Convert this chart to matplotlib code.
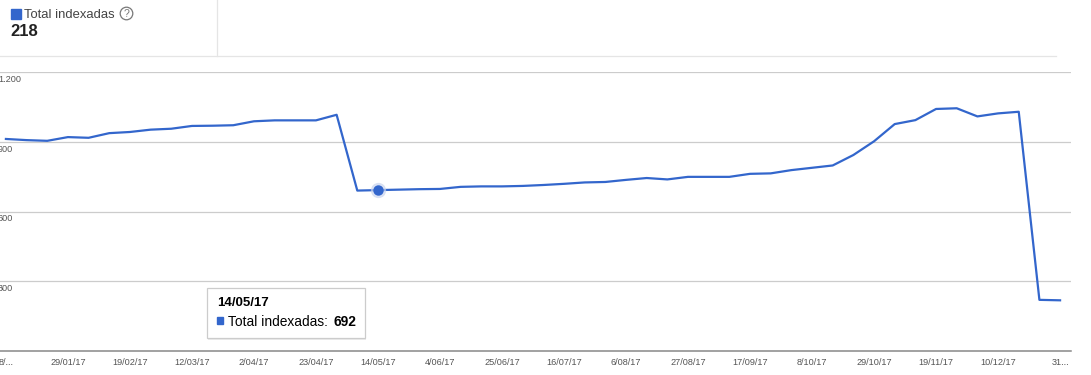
import pandas as pd
import matplotlib.pyplot as plt
from matplotlib.patches import Rectangle, Circle
from matplotlib.transforms import blended_transform_factory

plt.rcParams["font.family"] = ["Liberation Sans", "DejaVu Sans"]

# Weekly series, 8/01/17 .. 31/12/17
week_start = "2017-01-08"
values = [912, 907, 904, 920, 917, 937, 942, 952, 956, 968,
          969, 971, 988, 992, 992, 992, 1016, 690, 692, 694,
          696, 697, 706, 708, 708, 710, 714, 719, 725, 727,
          736, 744, 738, 749, 749, 749, 762, 764, 778, 788,
          798, 843, 902, 976, 993, 1041, 1044, 1009, 1022, 1029,
          220, 218]
tick_labels = ["8/...", "29/01/17", "19/02/17", "12/03/17", "2/04/17", "23/04/17",
               "14/05/17", "4/06/17", "25/06/17", "16/07/17", "6/08/17", "27/08/17",
               "17/09/17", "8/10/17", "29/10/17", "19/11/17", "10/12/17", "31..."]
y_ticks = [300, 600, 900, 1200]
y_labels = ["300", "600", "900", "1.200"]
series_name = "Total indexadas"
highlight = 18  # 14/05/17

dates = pd.date_range(week_start, periods=len(values), freq="7D")

blue = "#3366cc"
fig = plt.figure(figsize=(10.91, 3.75), dpi=100)
ax = fig.add_axes([0, 24 / 375, 1071 / 1091, 279 / 375])

ax.plot(dates, values, color=blue, linewidth=1.6, solid_joinstyle="round", zorder=3)
# highlighted point with halo
ax.plot(dates[highlight], values[highlight], "o", color="#c8d4ee", markersize=11,
        markeredgewidth=0, alpha=0.7, zorder=4)
ax.plot(dates[highlight], values[highlight], "o", color=blue, markersize=7.5,
        markeredgewidth=0, zorder=5)

ax.set_xlim(dates[0] - pd.Timedelta(days=2.0), dates[0] + pd.Timedelta(days=360.7))
ax.set_ylim(0, 1200)

ax.set_xticks(dates[::3])
ax.set_xticklabels(tick_labels, fontsize=6.6, color="#555555")
ax.tick_params(axis="x", length=0, pad=5)
ax.set_yticks(y_ticks)
ax.set_yticklabels([])
ax.tick_params(axis="y", length=0)
ax.grid(axis="y", color="#cccccc", linewidth=0.9)
ax.set_axisbelow(True)
for s in ["top", "left", "right"]:
    ax.spines[s].set_visible(False)
ax.spines["bottom"].set_color("#888888")
ax.spines["bottom"].set_linewidth(1.1)

ytrans = blended_transform_factory(ax.transAxes, ax.transData)
for v, lab in zip(y_ticks, y_labels):
    ax.text(-0.002, v - 12, lab, transform=ytrans, ha="left", va="top",
            fontsize=6.6, color="#555555")

# overlay in pixel coordinates for header and tooltip
ov = fig.add_axes([0, 0, 1, 1], zorder=10)
ov.set_xlim(0, 1091)
ov.set_ylim(375, 0)
ov.axis("off")

# header
ov.add_patch(Rectangle((11, 9), 10, 10, color=blue))
ov.text(24, 14.5, series_name, fontsize=9.4, color="#444444", va="center", ha="left")
ov.add_patch(Circle((126.5, 13.5), 6.3, fill=False, edgecolor="#777777", linewidth=0.9))
ov.text(126.5, 14, "?", fontsize=7.5, color="#777777", ha="center", va="center")
ov.text(10.5, 31, str(values[-1]), fontsize=12, fontweight="bold", color="#222222",
        va="center", ha="left")
ov.plot([216.5, 216.5], [0, 56], color="#e5e5e5", linewidth=0.9)
ov.plot([0, 1056], [56, 56], color="#e5e5e5", linewidth=0.9)

# tooltip
ov.add_patch(Rectangle((208, 289.5), 158, 50, facecolor="#000000", alpha=0.08,
                       edgecolor="none"))
ov.add_patch(Rectangle((207, 288), 158, 50, facecolor="white", edgecolor="#cccccc",
                       linewidth=0.9))
ov.text(217, 303, dates[highlight].strftime("%d/%m/%y"), fontsize=9.5,
        fontweight="bold", color="#000000", va="center", ha="left")
ov.add_patch(Rectangle((216.5, 317), 6.5, 6.5, color=blue))
ov.text(227.5, 322.5, series_name + ":", fontsize=9.9, color="#000000",
        va="center", ha="left")
ov.text(333, 322.5, str(values[highlight]), fontsize=9.9, fontweight="bold",
        color="#000000", va="center", ha="left")

fig.savefig("out.png", dpi=100)
